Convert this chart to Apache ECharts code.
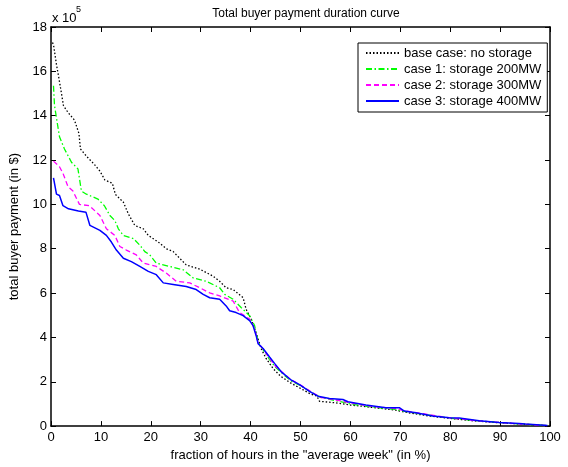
<!DOCTYPE html>
<html><head><meta charset="utf-8">
<script src="https://cdn.jsdelivr.net/npm/echarts@6/dist/echarts.min.js"></script>
<style>html,body{margin:0;padding:0;background:#fff}#c{width:568px;height:467px}</style>
</head><body><div id="c"></div>
<script>
// values in units of 10^5 $
const xTicks = [0,10,20,30,40,50,60,70,80,90,100];
const yTicks = [0,2,4,6,8,10,12,14,16,18];
const seriesNames = ['base case: no storage','case 1: storage 200MW','case 2: storage 300MW','case 3: storage 400MW'];

const baseX = [0.3,0.5,1.1,1.5,2.1,2.5,3.4,4.7,5.6,5.9,7.2,8.7,9.8,10.8,12.3,12.9,14.5,15.5,16.8,18.5,19.5,21.5,23.1,24.5,27.1,29.8,32.5,33.8,35.1,36.5,38.5,39.1,40.1,40.8,41.5,42.1,43.1,44.5,46,48,50,52,53.3,53.8,57,60,63,66,69,70.5,73,76,80,84,88,92,96,99.5];
const baseY = [17.3,17.2,16.3,15.8,15.0,14.45,14.15,13.8,13.2,12.5,12.15,11.8,11.5,11.1,10.95,10.45,10.1,9.57,9.05,8.9,8.6,8.3,8.0,7.87,7.27,7.08,6.76,6.53,6.24,6.16,5.79,5.27,4.83,4.39,3.94,3.5,3.05,2.6,2.25,1.95,1.7,1.45,1.35,1.12,1.05,0.95,0.88,0.8,0.72,0.65,0.55,0.45,0.35,0.25,0.18,0.12,0.07,0.02];

const case1X = [0.5,0.7,1.7,2.7,4.1,5.4,6.1,7.1,9.4,10.7,11.8,12.8,13.5,14.5,16.5,17.8,18.8,19.8,21.1,23.8,26.5,28.5,31.1,33.8,34.8,36.5,38.1,39.8,40.8,41.5,42.5,43.8,45,46.5,48,50,52,54,57,60,63,66,69,71,74,77,80,85,90,95,99.5];
const case1Y = [15.35,14.46,13.05,12.5,11.9,11.6,10.6,10.46,10.24,9.94,9.5,9.27,8.9,8.6,8.46,8.16,7.87,7.72,7.35,7.2,7.05,6.68,6.53,6.24,5.94,5.72,5.35,4.98,4.53,3.8,3.45,3.0,2.65,2.35,2.05,1.82,1.55,1.3,1.15,1.0,0.9,0.82,0.75,0.66,0.55,0.45,0.36,0.25,0.16,0.08,0.02];

const case2X = [0.5,1.7,2.4,3.4,4.4,5.7,7.7,9.8,11.1,12.8,13.8,15.1,17.1,18.5,21.1,23.1,25.1,27.8,29.8,31.8,33.8,36.5,37.8,39.8,40.8,41.5,42.5,43.8,45,46.5,48,50,52,54,57,60,63,66,69,71,74,77,80,85,90,95,99.5];
const case2Y = [11.95,11.7,11.4,10.8,10.6,10.0,9.94,9.5,8.9,8.6,8.1,7.94,7.72,7.35,7.2,6.9,6.53,6.46,6.24,6.01,5.87,5.64,5.12,4.83,4.39,3.75,3.48,3.05,2.7,2.4,2.1,1.85,1.57,1.3,1.18,1.05,0.93,0.85,0.8,0.68,0.58,0.47,0.37,0.25,0.16,0.08,0.02];

const case3X = [0.5,1.1,1.7,2.4,3.5,5.5,7.0,7.8,9.8,11.1,12.1,13.1,14.5,16.1,17.8,19.5,21.1,22.5,24.5,27.1,29.1,30.5,31.8,33.8,35.1,35.8,37.1,38.5,39.8,40.5,41.1,41.5,42.5,43.8,44.8,46.1,48,49.8,51.8,53.5,55.8,58.5,59.5,63.1,67.1,69.8,70.8,73.1,76.5,79.8,81.8,85.8,89.8,93.8,95.1,99.5];
const case3Y = [11.2,10.46,10.4,9.94,9.8,9.7,9.65,9.05,8.83,8.6,8.3,7.94,7.57,7.42,7.2,6.98,6.83,6.46,6.39,6.3,6.16,5.94,5.79,5.72,5.42,5.2,5.12,4.98,4.76,4.53,4.09,3.72,3.5,3.12,2.83,2.46,2.1,1.87,1.57,1.35,1.24,1.2,1.1,0.95,0.83,0.83,0.68,0.6,0.46,0.38,0.36,0.24,0.16,0.12,0.09,0.03];

const zip = (xs, ys) => xs.map((x, i) => [x, ys[i]]);
const FONT = 'Liberation Sans, Arial, Helvetica, sans-serif';

const chart = echarts.init(document.getElementById('c'), null, {renderer: 'canvas'});
const axisCommon = {
  type: 'value', min: 0,
  axisLine: {show: true, onZero: false, lineStyle: {color: '#000', width: 1.5}},
  axisTick: {show: true, inside: true, length: 5, lineStyle: {color: '#000', width: 1}},
  splitLine: {show: false}
};
function mk(name, xs, ys, color, type, width) {
  return {name, type: 'line', data: zip(xs, ys), symbol: 'none', showSymbol: false,
    lineStyle: {color, type, width}, itemStyle: {color}, animation: false};
}
chart.setOption({
  animation: false,
  textStyle: {fontFamily: FONT},
  title: {text: 'Total buyer payment duration curve', left: 301, textAlign: 'center', top: 3,
    textStyle: {fontSize: 12, fontWeight: 'normal', color: '#000', fontFamily: FONT}},
  grid: {left: 51, right: 18, top: 27, bottom: 35, containLabel: false},
  xAxis: [
    Object.assign({}, axisCommon, {max: 100, interval: 10, position: 'bottom',
      name: 'fraction of hours in the "average week" (in %)', nameLocation: 'middle', nameGap: 21,
      nameTextStyle: {fontSize: 13, color: '#000', fontFamily: FONT},
      axisLabel: {fontSize: 13, color: '#000', margin: 5, fontFamily: FONT}}),
    Object.assign({}, axisCommon, {max: 100, interval: 10, position: 'top', axisLabel: {show: false}})
  ],
  yAxis: [
    Object.assign({}, axisCommon, {max: 18, interval: 2, position: 'left',
      name: 'total buyer payment (in $)', nameLocation: 'middle', nameGap: 30, nameRotate: 90,
      nameTextStyle: {fontSize: 13, color: '#000', fontFamily: FONT},
      axisLabel: {fontSize: 13, color: '#000', margin: 4, fontFamily: FONT}}),
    Object.assign({}, axisCommon, {max: 18, interval: 2, position: 'right', axisLabel: {show: false}})
  ],
  legend: {
    show: true, type: 'plain',
    orient: 'vertical', left: 358, top: 43,
    data: seriesNames,
    borderColor: '#000', borderWidth: 1, borderRadius: 0, backgroundColor: '#fff',
    padding: [3, 6, 4, 7], itemGap: 2, itemWidth: 33, itemHeight: 14,
    itemStyle: {opacity: 0},
    textStyle: {fontSize: 13, color: '#000', fontFamily: FONT, lineHeight: 14, height: 14}
  },
  graphic: [
    {type: 'text', left: 52, top: 12, style: {text: 'x 10', font: '13px ' + FONT, fill: '#000'}},
    {type: 'text', left: 76, top: 5, style: {text: '5', font: '9px ' + FONT, fill: '#000'}}
  ],
  series: [
    mk(seriesNames[0], baseX, baseY, '#000000', [1.5, 2], 1.3),
    mk(seriesNames[1], case1X, case1Y, '#00ff00', [6, 2.5, 1.5, 2.5], 1.3),
    mk(seriesNames[2], case2X, case2Y, '#ff00ff', [5, 3], 1.3),
    mk(seriesNames[3], case3X, case3Y, '#0000ff', 'solid', 1.5)
  ]
});
</script></body></html>
